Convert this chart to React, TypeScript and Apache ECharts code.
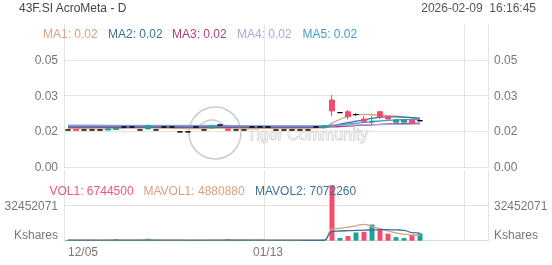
import React, { useEffect, useRef } from "react";
import * as echarts from "echarts";

const categories = [
  "12/05","12/08","12/09","12/10","12/11","12/12","12/15","12/16","12/17","12/18",
  "12/19","12/22","12/23","12/24","12/26","12/29","12/30","12/31","01/02","01/05",
  "01/06","01/07","01/08","01/09","01/12","01/13","01/14","01/15","01/16","01/19",
  "01/20","01/21","01/22","01/23","01/26","01/27","01/28","01/29","01/30","02/02",
  "02/03","02/04","02/05","02/06","02/09","02/10","02/11","02/12","02/13","02/16",
  "02/17","02/18","02/19",
];
const shownDateIdx = [0, 25];
const splitIdx = [25, 50];

const opens = [
  0.0173,0.0176,0.0173,0.0173,0.0173,0.0173,0.0175,0.0187,0.0187,0.0173,
  0.0178,0.0173,0.0187,0.0187,0.0164,0.0164,0.0187,0.0173,0.0183,0.0196,
  0.0178,0.0173,0.0173,0.0187,0.0187,0.0187,0.0173,0.0173,0.0173,0.0173,
  0.0173,0.0187,0.0183,0.0313,0.0254,0.0258,0.0245,0.0224,0.0210,0.0258,
  0.0235,0.0209,0.0209,0.0218,0.0216,
];
const closes = [
  0.0173,0.0171,0.0173,0.0173,0.0173,0.0178,0.0180,0.0187,0.0187,0.0173,
  0.0194,0.0173,0.0187,0.0187,0.0164,0.0164,0.0187,0.0173,0.0192,0.0196,
  0.0171,0.0173,0.0173,0.0187,0.0187,0.0187,0.0173,0.0173,0.0173,0.0173,
  0.0173,0.0187,0.0192,0.0262,0.0254,0.0235,0.0245,0.0212,0.0214,0.0235,
  0.0224,0.0220,0.0220,0.0205,0.0216,
];
const lows = [
  0.0173,0.0171,0.0173,0.0173,0.0173,0.0173,0.0175,0.0187,0.0187,0.0173,
  0.0178,0.0173,0.0187,0.0187,0.0164,0.0164,0.0187,0.0173,0.0183,0.0196,
  0.0171,0.0173,0.0173,0.0187,0.0187,0.0187,0.0173,0.0173,0.0173,0.0173,
  0.0173,0.0187,0.0183,0.0238,0.0254,0.0223,0.0240,0.0212,0.0196,0.0224,
  0.0224,0.0209,0.0209,0.0200,0.0216,
];
const highs = [
  0.0173,0.0176,0.0173,0.0173,0.0173,0.0180,0.0180,0.0187,0.0187,0.0173,
  0.0196,0.0173,0.0187,0.0187,0.0164,0.0164,0.0187,0.0173,0.0192,0.0196,
  0.0178,0.0173,0.0173,0.0187,0.0187,0.0187,0.0173,0.0173,0.0173,0.0173,
  0.0173,0.0187,0.0192,0.0336,0.0254,0.0266,0.0250,0.0238,0.0238,0.0262,
  0.0240,0.0222,0.0222,0.0220,0.0216,
];

const ma1 = [
  0.0181,0.0180,0.0180,0.0179,0.0178,0.0179,0.0180,0.0181,0.0182,0.0182,
  0.0183,0.0182,0.0182,0.0181,0.0180,0.0179,0.0179,0.0180,0.0181,0.0182,
  0.0182,0.0181,0.0180,0.0180,0.0181,0.0181,0.0180,0.0180,0.0180,0.0180,
  0.0181,0.0182,0.0184,0.0205,0.0222,0.0238,0.0245,0.0246,0.0244,0.0242,
  0.0240,0.0237,0.0234,0.0230,0.0224,
];
const ma2 = [
  0.0190,0.0190,0.0190,0.0190,0.0190,0.0190,0.0190,0.0189,0.0189,0.0189,
  0.0189,0.0189,0.0189,0.0189,0.0189,0.0189,0.0189,0.0189,0.0189,0.0189,
  0.0188,0.0188,0.0188,0.0188,0.0188,0.0188,0.0188,0.0188,0.0188,0.0188,
  0.0188,0.0188,0.0189,0.0193,0.0200,0.0207,0.0214,0.0220,0.0227,0.0232,
  0.0234,0.0234,0.0233,0.0231,0.0228,
];
const ma3 = [
  0.0185,0.0185,0.0185,0.0185,0.0185,0.0185,0.0185,0.0185,0.0185,0.0185,
  0.0185,0.0185,0.0185,0.0185,0.0185,0.0185,0.0185,0.0185,0.0185,0.0185,
  0.0185,0.0185,0.0185,0.0185,0.0185,0.0185,0.0185,0.0185,0.0185,0.0185,
  0.0185,0.0185,0.0186,0.0187,0.0189,0.0191,0.0193,0.0195,0.0197,0.0199,
  0.0201,0.0202,0.0203,0.0204,0.0205,
];
const ma4 = [
  0.0195,0.0195,0.0195,0.0195,0.0195,0.0194,0.0194,0.0194,0.0194,0.0194,
  0.0194,0.0194,0.0194,0.0194,0.0194,0.0194,0.0194,0.0194,0.0194,0.0194,
  0.0194,0.0193,0.0193,0.0193,0.0193,0.0193,0.0193,0.0193,0.0193,0.0193,
  0.0193,0.0193,0.0193,0.0195,0.0196,0.0196,0.0197,0.0197,0.0198,0.0198,
  0.0199,0.0199,0.0199,0.0200,0.0200,
];
const ma5 = [
  0.0191,0.0191,0.0191,0.0191,0.0191,0.0191,0.0191,0.0191,0.0191,0.0191,
  0.0191,0.0191,0.0191,0.0191,0.0191,0.0191,0.0191,0.0191,0.0191,0.0191,
  0.0191,0.0191,0.0191,0.0190,0.0190,0.0190,0.0190,0.0190,0.0190,0.0190,
  0.0190,0.0190,0.0191,0.0194,0.0197,0.0201,0.0205,0.0208,0.0212,0.0215,
  0.0218,0.0220,0.0221,0.0222,0.0222,
];

const volumes = [
  700000,300000,200000,150000,200000,900000,1400000,200000,150000,300000,
  1800000,200000,150000,150000,300000,250000,150000,300000,900000,400000,
  1500000,700000,300000,200000,200000,150000,300000,250000,200000,200000,
  250000,200000,900000,51500000,2500000,4300000,7600000,8200000,15000000,11300000,
  6500000,3300000,2400000,5400000,6744500,
];
const mavol1 = [
  500000,500000,450000,400000,350000,350000,550000,550000,550000,550000,
  750000,550000,500000,550000,550000,200000,200000,250000,400000,400000,
  650000,750000,750000,600000,650000,400000,250000,250000,200000,200000,
  250000,250000,350000,10700000,11500000,12500000,13800000,15200000,13000000,11000000,
  9000000,7200000,6000000,5300000,4880880,
];
const mavol2 = [
  500000,500000,500000,450000,450000,450000,450000,450000,450000,450000,
  550000,550000,550000,550000,550000,550000,550000,550000,500000,500000,
  500000,500000,500000,500000,500000,500000,500000,500000,450000,450000,
  400000,400000,400000,8500000,9000000,9300000,9500000,9800000,10000000,10200000,
  10200000,10000000,9600000,7500000,7072260,
];

const UP = "#1aa296";
const DOWN = "#f44c6c";
const C_MA1 = "#d6a283";
const C_MA2 = "#3f7099";
const C_MA3 = "#b13e7d";
const C_MA4 = "#a7a9e6";
const C_MA5 = "#3f9fd2";
const GRID = "#e3e3e3";
const LABEL = "#777";
const FONT = "'Liberation Sans', Arial, sans-serif";

export default function App() {
  const ref = useRef<HTMLDivElement>(null);
  useEffect(() => {
    if (!ref.current) return;
    const chart = echarts.init(ref.current, null, { renderer: "svg" });
    const candleData = opens.map((o, i) => [o, closes[i], lows[i], highs[i]]);
    const volData = volumes.map((v, i) => ({
      value: v,
      itemStyle: { color: closes[i] >= opens[i] ? UP : DOWN },
    }));
    const mainMax = 0.2 / 3;
    const mainInt = 0.05 / 3;
    const volInt = 32452071;
    const xCommon = {
      type: "category",
      data: categories,
      boundaryGap: true,
      axisTick: { show: false },
      splitLine: {
        show: true,
        interval: (i: number) => splitIdx.includes(i),
        lineStyle: { color: GRID, width: 1 },
      },
    };
    const lineS = (name: string, data: number[], color: string, xi = 0, yi = 0) => ({
      name,
      type: "line",
      data,
      xAxisIndex: xi,
      yAxisIndex: yi,
      smooth: true,
      showSymbol: false,
      symbol: "none",
      lineStyle: { color, width: 1.3 },
      z: 3,
    });
    const t = (text: string, x: number, y: number, fill: string, align = "left") => ({
      type: "text",
      x,
      y,
      style: { text, fill, font: `12px ${FONT}`, textAlign: align, textVerticalAlign: "middle" },
      z: 50,
    });
    chart.setOption({
      animation: false,
      textStyle: { fontFamily: FONT },
      grid: [
        { left: 64, right: 64, top: 24.3, height: 142.7 },
        { left: 64, right: 64, top: 170.7, height: 70 },
      ],
      xAxis: [
        {
          ...xCommon,
          gridIndex: 0,
          axisLine: { show: false },
          axisLabel: { show: false },
        },
        {
          ...xCommon,
          gridIndex: 1,
          axisLine: { show: true, lineStyle: { color: "#dcdcdc" } },
          axisLabel: {
            show: true,
            interval: (i: number) => shownDateIdx.includes(i),
            color: LABEL,
            fontSize: 12,
            margin: 5,
            alignMinLabel: "left",
          },
        },
      ],
      yAxis: [0, 1].map((k) => ({
        type: "value",
        gridIndex: 0,
        position: k === 0 ? "left" : "right",
        min: 0,
        max: mainMax,
        interval: mainInt,
        axisLine: { show: true, lineStyle: { color: GRID } },
        axisTick: { show: false },
        axisLabel: {
          color: LABEL,
          fontSize: 12,
          margin: 6,
          showMaxLabel: false,
          formatter: (v: number) => (v > mainMax - 1e-6 ? "" : v.toFixed(2)),
        },
        splitLine: { show: k === 0, showMaxLine: false, lineStyle: { color: GRID } },
      })).concat([0, 1].map((k) => ({
        type: "value",
        gridIndex: 1,
        position: k === 0 ? "left" : "right",
        min: 0,
        max: volInt * 2,
        interval: volInt,
        axisLine: { show: true, lineStyle: { color: GRID } },
        axisTick: { show: false },
        axisLabel: {
          color: LABEL,
          fontSize: 12,
          margin: 6,
          showMaxLabel: false,
          verticalAlignMinLabel: "bottom",
          formatter: (v: number) => (v === 0 ? "Kshares" : v >= volInt * 2 ? "" : String(v)),
        },
        splitLine: { show: k === 0, showMaxLine: false, showMinLine: false, lineStyle: { color: GRID } },
      })) as any),
      series: [
        {
          type: "candlestick",
          data: candleData,
          xAxisIndex: 0,
          yAxisIndex: 0,
          barWidth: 6,
          itemStyle: {
            color: UP,
            color0: DOWN,
            borderColor: UP,
            borderColor0: DOWN,
            borderColorDoji: "#000",
            borderWidth: 1,
          },
          z: 4,
        },
        lineS("MA1", ma1, C_MA1),
        lineS("MA2", ma2, C_MA2),
        lineS("MA3", ma3, C_MA3),
        lineS("MA4", ma4, C_MA4),
        lineS("MA5", ma5, C_MA5),
        {
          type: "bar",
          data: volData,
          xAxisIndex: 1,
          yAxisIndex: 2,
          barWidth: 5,
          z: 2,
        },
        lineS("MAVOL1", mavol1, C_MA1, 1, 2),
        lineS("MAVOL2", mavol2, C_MA2, 1, 2),
      ],
      graphic: [
        t("43F.SI AcroMeta - D", 19, 8, "#444"),
        t("2026-02-09  16:16:45", 536, 8, "#555", "right"),
        t("MA1: 0.02", 43, 34, C_MA1),
        t("MA2: 0.02", 108, 34, C_MA2),
        t("MA3: 0.02", 172, 34, C_MA3),
        t("MA4: 0.02", 237, 34, C_MA4),
        t("MA5: 0.02", 302.5, 34, C_MA5),
        t("VOL1: 6744500", 49.5, 191, "#f2566f"),
        t("MAVOL1: 4880880", 143.5, 191, C_MA1),
        t("MAVOL2: 7072260", 255, 191, C_MA2),
        {
          type: "group",
          z: 60,
          children: [
            {
              type: "circle",
              shape: { cx: 215, cy: 133, r: 26 },
              style: { fill: "none", stroke: "rgba(190,190,190,0.8)", lineWidth: 1.5 },
            },
            {
              type: "arc",
              shape: { cx: 212, cy: 136, r: 16, startAngle: 3.6, endAngle: 6.0 },
              style: { fill: "none", stroke: "rgba(190,190,190,0.8)", lineWidth: 1.5 },
            },
            {
              type: "text",
              x: 247,
              y: 134,
              style: {
                text: "Tiger Community",
                font: `16px ${FONT}`,
                fill: "rgba(255,255,255,0.6)",
                stroke: "rgba(185,185,185,0.9)",
                lineWidth: 0.8,
                textVerticalAlign: "middle",
              },
            },
          ],
        },
      ],
    });
    return () => chart.dispose();
  }, []);
  return (
    <div
      ref={ref}
      style={{ position: "fixed", left: 0, top: 0, width: 552, height: 265 }}
    />
  );
}
